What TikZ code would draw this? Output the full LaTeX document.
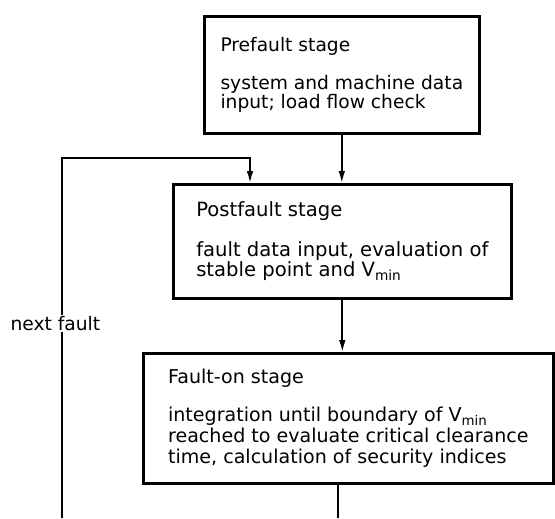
\documentclass[tikz,border=0pt]{standalone}
\usepackage{fontspec}
\setmainfont{DejaVu Sans}
\usetikzlibrary{positioning,calc,arrows.meta}
\newcommand{\vmin}{V\textsubscript{min}}
\tikzstyle{stage} = [draw, rectangle, line width=2pt, anchor=north west, align=left, inner ysep=0pt, font=\fontsize{14}{14.5}\selectfont]
\tikzstyle{to} = [-{Latex[length=9pt,width=5pt]}, line width=1.3pt]
\tikzstyle{wire} = [line width=1.3pt]
\tikzstyle{lbl} = [fill=white, inner sep=1pt, font=\fontsize{14}{14.5}\selectfont]

\begin{document}
\begin{tikzpicture}[x=0.75pt, y=-0.75pt]
	\useasboundingbox (0,0) rectangle (555,518);
	\node (pre) [stage, minimum width=206.25pt, minimum height=87.75pt] at (203,15)
		{Prefault stage\\[14pt]system and machine data\\input; load flow check};
	\node (post) [stage, minimum width=253.5pt, minimum height=85.5pt, font=\fontsize{14.7}{14.2}\selectfont] at (172,183)
		{Postfault stage\\[14.3pt]fault data input, evaluation of\\stable point and \vmin};
	\node (fon) [stage, minimum width=307.5pt, minimum height=97.5pt, font=\fontsize{14.3}{15.7}\selectfont] at (142,352)
		{Fault-on stage\\[12.8pt]integration until boundary of \vmin\\reached to evaluate critical clearance\\time, calculation of security indices};
	\coordinate (out) at (338,518);
	\coordinate (back) at (62,518);
	\coordinate (turn) at (250,158);
	\draw [to] (pre.south) -- (pre.south |- post.north);
	\draw [to] (post.south) -- (post.south |- fon.north);
	\draw [wire] (fon.south -| out) -- (out);
	\draw [to] (back) |- node [lbl, pos=0.27, xshift=-5pt] {next fault} (turn) -- (turn |- post.north);
\end{tikzpicture}
\end{document}
